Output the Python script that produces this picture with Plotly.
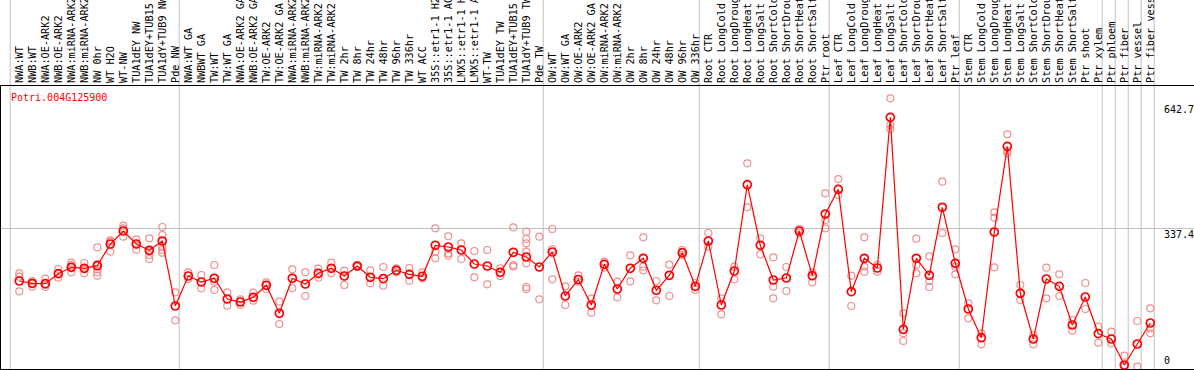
import plotly.graph_objects as go

labels = ["NWA:WT", "NWB:WT", "NWA:OE-ARK2", "NWB:OE-ARK2", "NWA:miRNA-ARK2", "NWB:miRNA-ARK2",
          "NW 0hr", "WT H2O", "WT-NW", "TUA1dEY NW", "TUA1dEY+TUB15 NW", "TUA1dY+TUB9 NW", "Pde NW",
          "NWA:WT GA", "NWBWT GA", "TW:WT", "TW:WT GA", "NWA:OE-ARK2 GA", "NWB:OE-ARK2 GA",
          "TW:OE-ARK2", "TW:OE-ARK2 GA", "NWA:miRNA-ARK2 GA", "NWB:miRNA-ARK2 GA", "TW:miRNA-ARK2",
          "TW:miRNA-ARK2", "TW 2hr", "TW 8hr", "TW 24hr", "TW 48hr", "TW 96hr", "TW 336hr", "WT ACC",
          "35S::etr1-1 H2O", "35S::etr1-1 ACC", "LMX5::etr1-1 H2O", "LMX5::etr1-1 ACC", "WT-TW",
          "TUA1dEY TW", "TUA1dEY+TUB15 TW", "TUA1dY+TUB9 TW", "Pde TW",
          "OW:WT", "OW:WT GA", "OW:OE-ARK2", "OW:OE-ARK2 GA", "OW:miRNA-ARK2", "OW:miRNA-ARK2",
          "OW 2hr", "OW 8hr", "OW 24hr", "OW 48hr", "OW 96hr", "OW 336hr",
          "Root CTR", "Root LongCold", "Root LongDrought", "Root LongHeat", "Root LongSalt",
          "Root ShortCold", "Root ShortDrought", "Root ShortHeat", "Root ShortSalt", "Ptr root",
          "Leaf CTR", "Leaf LongCold", "Leaf LongDrought", "Leaf LongHeat", "Leaf LongSalt",
          "Leaf ShortCold", "Leaf ShortDrought", "Leaf ShortHeat", "Leaf ShortSalt", "Ptr leaf",
          "Stem CTR", "Stem LongCold", "Stem LongDrought", "Stem LongHeat", "Stem LongSalt",
          "Stem ShortCold", "Stem ShortDrought", "Stem ShortHeat", "Stem ShortSalt", "Ptr shoot",
          "Ptr xylem", "Ptr phloem", "Ptr fiber", "Ptr vessel", "Ptr fiber vessel"]

means = [208.9, 203.3, 202.3, 226.7, 242.3, 239.9, 246.2, 299.1, 330.9, 299.1, 283.8, 306.5, 147.9,
         221.1, 206.4, 215.5, 164.9, 157.6, 169.1, 198.4, 130.1, 215.5, 201.5, 227.7, 239.9, 221.1,
         245.5, 217.9, 214.5, 235.0, 225.2, 220.3, 296.0, 291.8, 284.5, 250.3, 245.5, 230.1, 278.9,
         267.4, 243.0, 279.6, 172.3, 212.5, 150.3, 249.6, 189.3, 239.9, 264.3, 186.2, 222.8, 277.9,
         195.9, 306.5, 150.3, 233.3, 443.8, 296.0, 211.3, 216.2, 330.9, 221.8, 372.3, 432.6, 182.8,
         264.3, 240.6, 608.3, 91.0, 264.3, 222.8, 388.7, 252.1, 140.5, 70.5, 328.4, 537.5, 178.9,
         67.3, 213.7, 195.9, 101.5, 169.8, 80.3, 67.3, 3.9, 55.1, 106.4]

replicates = [
    [227.7, 219.4, 183.7], [208.9, 201.5, 195.0], [214.5, 199.1, 194.2], [238.1, 227.7, 216.9],
    [253.5, 247.9, 230.1], [252.8, 238.1, 227.7], [291.1, 250.3, 237.4, 230.1, 221.8],
    [308.2, 304.8, 280.4], [343.8, 337.5, 317.0], [310.6, 298.4, 285.2],
    [313.1, 280.4, 272.3, 262.5], [340.6, 321.1, 292.6, 284.5, 277.9], [181.3, 113.0],
    [230.1, 213.7], [223.5, 191.1], [247.9, 207.2, 186.9], [181.3, 148.6], [164.2, 150.3],
    [180.3, 160.8], [205.7, 189.3], [158.4, 103.9], [237.4, 191.1], [230.1, 172.3],
    [238.9, 216.9], [253.5, 227.7], [234.0, 199.1], [247.9, 243.1], [235.0, 203.3],
    [243.0, 197.4], [239.9, 230.1], [240.6, 209.6], [230.1, 215.5], [337.5, 280.4, 264.3],
    [317.9, 276.5, 270.6], [300.9, 262.5], [282.1, 217.9], [284.5, 200.8], [239.9, 221.1],
    [339.9, 247.9, 244.0], [329.2, 311.3, 300.9, 280.4, 252.1, 194.2, 189.3], [317.0, 164.2],
    [335.7, 286.9, 213.0], [195.9, 150.3], [222.8, 207.2], [165.7, 131.5], [256.0, 241.3],
    [207.2, 169.1], [271.6, 208.1], [315.5, 243.8, 235.0], [208.9, 161.8], [248.6, 172.3],
    [284.5, 272.3], [204.0, 187.6], [326.0, 292.6], [166.7, 127.6], [243.8, 213.0],
    [496.1, 388.7], [313.1, 274.0], [266.7, 195.0, 166.7], [243.0, 184.5], [335.7, 326.0],
    [230.1, 205.7], [422.9, 357.7, 337.5], [457.7, 418.7], [221.8, 147.9],
    [315.5, 243.8, 231.6], [247.9, 231.6], [654.7, 589.5, 579.7], [130.1, 81.3, 62.5],
    [312.1, 247.9, 227.7], [269.1, 208.9, 194.2], [451.2, 326.0], [286.2, 243.8, 225.2],
    [154.5, 117.9], [81.3, 54.4], [376.5, 363.3, 242.3], [566.8, 526.1, 520.5],
    [199.1, 162.5], [77.1, 54.4], [241.3, 166.7], [225.2, 172.3], [113.7, 87.6],
    [204.0, 140.5], [97.4, 58.3], [85.2, 56.9], [26.6, 0.0], [111.3, 0.0],
    [142.3, 93.5, 81.3]]

y_ticks = [0, 337.4, 642.7]
gene_name = "Potri.004G125900"
group_bounds = [0, 13, 41, 53, 63, 73, 84, 85, 86, 87, 88]

W, H = 1194, 370
L, R, T, B = 1, 0, 86, 1
ph = H - T - B
xr = [-1.4077, 90.361]
yr = [-5.86, 684.7]
FONT = "DejaVu Sans Mono"

rep_x = [i for i, reps in enumerate(replicates) for _ in reps]
rep_y = [v for reps in replicates for v in reps]
idx = list(range(len(labels)))

fig = go.Figure()
fig.add_trace(go.Scatter(x=rep_x, y=rep_y, mode="markers", cliponaxis=False,
                         marker=dict(symbol="circle-open", size=7, color="#ee9090",
                                     line=dict(width=1.2, color="#ee9090")),
                         hoverinfo="skip", showlegend=False))
fig.add_trace(go.Scatter(x=idx, y=means, mode="lines+markers", cliponaxis=False,
                         line=dict(color="#ff0000", width=1.2),
                         marker=dict(symbol="circle-open", size=8, color="#ff0000",
                                     line=dict(width=1.7, color="#ff0000")),
                         showlegend=False))
fig.add_trace(go.Scatter(x=idx, y=[None] * len(idx), xaxis="x2", yaxis="y",
                         mode="markers", showlegend=False, hoverinfo="skip"))

shapes = []
for k in group_bounds:
    shapes.append(dict(type="line", xref="x", yref="paper", x0=k - 0.7, x1=k - 0.7,
                       y0=0, y1=1 + T / ph, line=dict(color="#c0c0c0", width=1), layer="below"))

annotations = [dict(text=gene_name, xref="paper", yref="paper", x=(9.3 - L) / (W - L - R),
                    y=(H - B - 97.3) / ph, xanchor="left", yanchor="middle", showarrow=False,
                    font=dict(family=FONT, size=10, color="#ff0000"))]
for v in y_ticks:
    annotations.append(dict(text=("%g" % v), xref="paper", yref="y", x=(1162.5 - L) / (W - L - R),
                            y=v, xanchor="left", yanchor=("bottom" if v == 0 else "top"),
                            showarrow=False, borderpad=0,
                            font=dict(family=FONT, size=10, color="black")))

fig.update_layout(
    width=W, height=H, autosize=False,
    margin=dict(l=L, r=R, t=T, b=B, pad=0, autoexpand=False),
    paper_bgcolor="white", plot_bgcolor="white",
    xaxis=dict(range=xr, showgrid=False, zeroline=False, showticklabels=False, ticks="",
               showline=True, linecolor="black", linewidth=1, automargin=False),
    xaxis2=dict(range=xr, overlaying="x", side="top", anchor="y", tickmode="array",
                tickvals=idx, ticktext=labels, tickangle=-90, ticks="", showgrid=False,
                zeroline=False, showline=True, linecolor="black", linewidth=1, automargin=False,
                tickfont=dict(family=FONT, size=10.2, color="black")),
    yaxis=dict(range=yr, tickmode="array", tickvals=[y_ticks[1]], showticklabels=False,
               ticks="", showgrid=True, gridcolor="#c0c0c0", gridwidth=1, zeroline=False,
               showline=True, linecolor="black", linewidth=1, automargin=False),
    shapes=shapes, annotations=annotations,
)

fig.write_html("out.html", config={"displayModeBar": False},
               post_script="document.body.style.margin='0';document.body.style.overflow='hidden';")
